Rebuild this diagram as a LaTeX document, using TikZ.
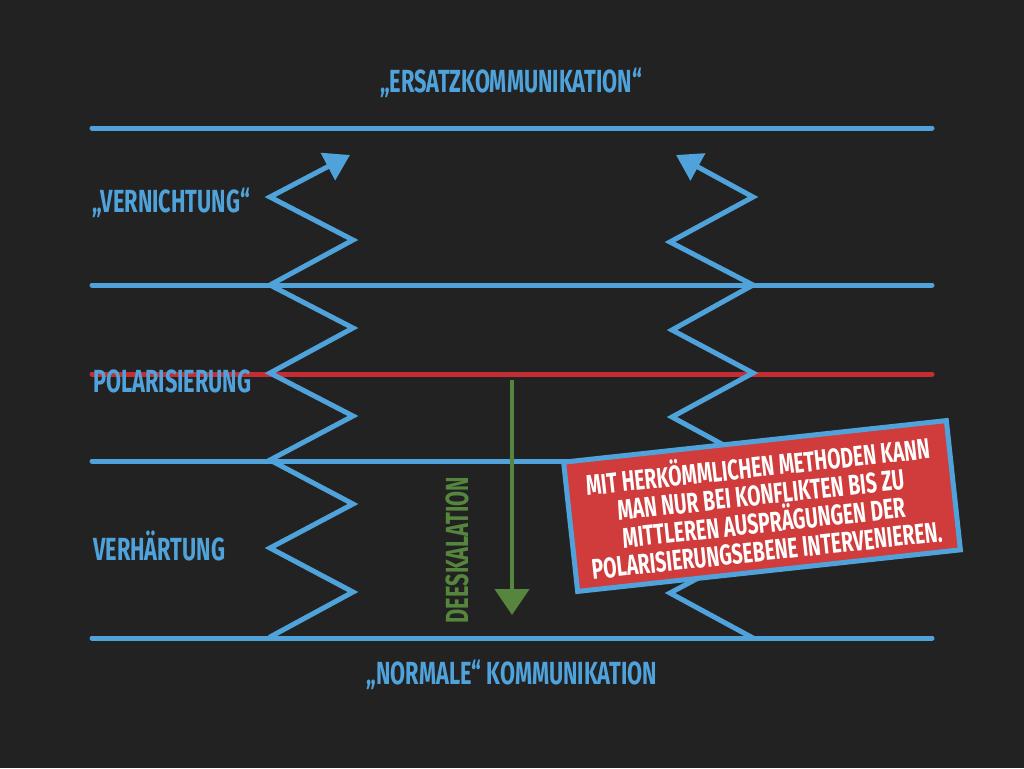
\documentclass[tikz,border=0pt]{standalone}
\usepackage{fontspec}
\usetikzlibrary{arrows.meta}
\newfontfamily\din[FakeStretch=0.68]{Fira Sans}
\definecolor{bgc}{RGB}{34,34,34}
\definecolor{chalkblue}{RGB}{80,162,218}
\definecolor{chalkred}{RGB}{196,46,50}
\definecolor{boxred}{RGB}{208,60,60}
\definecolor{chalkgreen}{RGB}{86,134,62}
\tikzset{
  level/.style={draw=chalkblue, line width=5pt, line cap=round},
  redlevel/.style={draw=chalkred, line width=5pt, line cap=round},
  zig/.style={draw=chalkblue, line width=5pt, line join=miter, line cap=round,
    -{Triangle[width=30pt,length=25pt]}},
  lbl/.style={text=chalkblue, font=\din\bfseries\fontsize{32}{32}\selectfont, inner sep=0pt},
  boxtext/.style={text=white, font=\din\bfseries\fontsize{28.5}{28}\selectfont, align=center}
}
\begin{document}
\begin{tikzpicture}[x=1pt,y=-1pt]
\fill[bgc] (0,0) rectangle (1024,768);
\useasboundingbox (0,0) rectangle (1024,768);

% level lines
\coordinate (l1a) at (92,128); \coordinate (l1b) at (932,128);
\coordinate (l2a) at (92,285); \coordinate (l2b) at (932,285);
\coordinate (l3a) at (92,374); \coordinate (l3b) at (932,374);
\coordinate (l4a) at (92,461); \coordinate (l4b) at (932,461);
\coordinate (l5a) at (92,638); \coordinate (l5b) at (932,638);
\draw[level] (l1a) -- (l1b);
\draw[level] (l2a) -- (l2b);
\draw[level] (l4a) -- (l4b);
\draw[level] (l5a) -- (l5b);
\draw[redlevel] (l3a) -- (l3b);

% left zigzag
\draw[zig] (270,637) -- (353,592) -- (270,548) -- (353,504) -- (270,460)
  -- (353,416) -- (270,373) -- (353,328) -- (270,285) -- (353,240)
  -- (270,197) -- (350,155);

% right zigzag
\draw[zig] (753,638) -- (670,593) -- (753,549) -- (670,505) -- (753,461)
  -- (672,417) -- (753,373) -- (672,330) -- (753,285) -- (670,242)
  -- (753,197) -- (676,155);

% green arrow
\coordinate (gs) at (512,380);
\coordinate (ge) at (512,615);
\draw[draw=chalkgreen, line width=4.5pt, -{Triangle[width=34pt,length=26pt]}] (gs) -- (ge);
\node[text=chalkgreen, font=\din\bfseries\fontsize{32}{32}\selectfont, inner sep=0pt,
  rotate=90] (deesk) at (457,550) {DEESKALATION};

% labels
\node[lbl] (ersatz) at (511,83) {„ERSATZKOMMUNIKATION“};
\node[lbl, anchor=west] (vern) at (92,203) {„VERNICHTUNG“};
\node[lbl, anchor=west] (polar) at (93,381) {POLARISIERUNG};
\node[lbl, anchor=west] (verh) at (93,546) {VERHÄRTUNG};
\node[lbl] (normal) at (512,675) {„NORMALE“ KOMMUNIKATION};

% red box
\node[fill=boxred, draw=chalkblue, line width=5pt, rotate=6.2,
  minimum width=385pt, minimum height=130pt, inner sep=0pt] (box) at (762,506) {};
\node[boxtext, rotate=6.2] (boxt) at (box.center) {MIT HERKÖMMLICHEN METHODEN KANN\\MAN NUR BEI KONFLIKTEN BIS ZU\\MITTLEREN AUSPRÄGUNGEN DER\\POLARISIERUNGSEBENE INTERVENIEREN.};
\end{tikzpicture}
\end{document}
